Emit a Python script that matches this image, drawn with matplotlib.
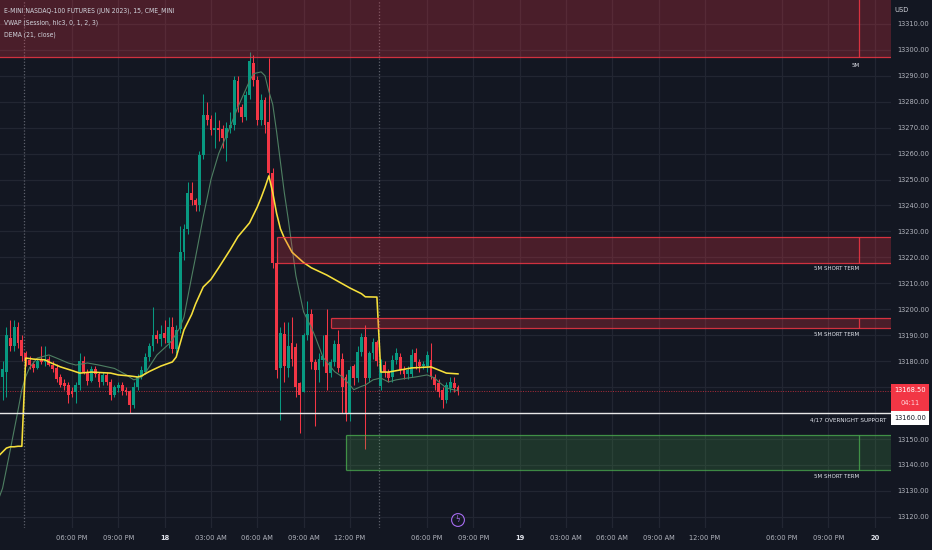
import numpy as np
import matplotlib
matplotlib.use("Agg")
import matplotlib.pyplot as plt
from matplotlib.patches import Rectangle
from matplotlib.transforms import blended_transform_factory

plt.rcParams['font.family'] = ['DejaVu Sans']
plt.rcParams['font.stretch'] = 'condensed'

# ---------------- data (15-minute bars, index 0 = first bar of the 3 PM session) ----------------
bars = np.arange(-6, 113)

opens = [13174, 13176, 13189, 13186, 13193, 13188, 13183, 13180.5, 13179, 13177.5,
         13180.5, 13179.5, 13181, 13178.5, 13177.5, 13174, 13171.5, 13171, 13168.5, 13168,
         13171, 13180, 13176, 13172.5, 13177, 13175, 13172, 13174.5, 13172, 13167,
         13169.5, 13171, 13169, 13168.5, 13163, 13170, 13174, 13176, 13181.5, 13186,
         13190, 13188.5, 13191, 13187, 13193, 13184.5, 13192.5, 13222, 13231, 13245,
         13242, 13240, 13259.5, 13275, 13273.5, 13269, 13270, 13269.5, 13266, 13270,
         13271, 13288, 13278, 13274, 13282.5, 13295, 13288.5, 13273, 13280.5, 13272,
         13252.5, 13218, 13177.5, 13190.5, 13177.5, 13187, 13185.5, 13171.5, 13168, 13190,
         13198, 13179.5, 13176.5, 13180.5, 13190, 13175.5, 13179.5, 13186.5, 13181, 13174,
         13160, 13178, 13173.5, 13183.5, 13189.5, 13173.5, 13183, 13187.5, 13170.5, 13178.5,
         13176, 13174, 13180.5, 13181.5, 13176.5, 13175, 13175, 13183, 13179.5, 13178,
         13178, 13180.5, 13174, 13171.5, 13169, 13165, 13169.5, 13171.5, 13170]

highs = [13180, 13193, 13196, 13196, 13195, 13190, 13184, 13182, 13180, 13181,
         13186, 13186, 13182, 13180, 13179, 13175, 13173, 13172, 13170, 13172,
         13183, 13182, 13177, 13178, 13178, 13176, 13176, 13176, 13173, 13171,
         13172, 13172, 13170, 13169, 13172, 13175, 13178, 13183, 13187, 13201,
         13192, 13194, 13196, 13197, 13197, 13194, 13232, 13233, 13249, 13249,
         13243, 13261, 13283, 13280, 13275, 13276, 13273, 13271, 13272, 13276,
         13290, 13290, 13279, 13284, 13299, 13298, 13290, 13283, 13282, 13297,
         13254.5, 13222, 13193, 13195, 13195, 13197, 13187, 13172, 13191, 13203,
         13200, 13181, 13183, 13190, 13200, 13181, 13188, 13192, 13183, 13175,
         13178, 13179, 13186, 13191, 13194, 13184, 13189, 13188, 13181, 13180,
         13177, 13182.5, 13185, 13183, 13178, 13178, 13184.5, 13185, 13181, 13180,
         13184, 13187, 13175, 13173, 13170, 13172, 13174, 13174, 13171]

lows = [13165, 13166, 13184, 13184, 13185, 13180, 13178, 13177, 13176, 13177,
        13179, 13178, 13178, 13176, 13172, 13170, 13169, 13164, 13166, 13164,
        13169, 13175, 13171, 13172, 13174, 13170, 13171, 13171, 13165, 13166,
        13168, 13167, 13167, 13160, 13162, 13169, 13173, 13175, 13180, 13184,
        13187, 13186, 13187, 13185, 13183, 13183, 13191, 13219, 13229, 13240,
        13238, 13238, 13258, 13271, 13267, 13262, 13265, 13262, 13257, 13268,
        13269, 13276, 13272, 13273, 13281, 13286, 13271, 13271, 13268, 13250,
        13216, 13173.5, 13157.3, 13172, 13174, 13178, 13166, 13152.3, 13168, 13188,
        13177, 13155, 13172, 13178, 13169, 13174, 13178, 13176, 13160, 13157,
        13157, 13171, 13172, 13182, 13146, 13172, 13181, 13178, 13169, 13174,
        13172, 13172, 13179, 13175, 13173, 13173, 13174, 13177, 13176, 13177,
        13176, 13173, 13169, 13166, 13162, 13164, 13168, 13168, 13167]

closes = [13177, 13190, 13186, 13193, 13187, 13182, 13180, 13178.5, 13177.5, 13180,
          13179.5, 13181, 13178.5, 13177, 13173, 13171, 13170.5, 13167, 13167.5, 13171,
          13180, 13176, 13172.5, 13177, 13175, 13172, 13174.5, 13172, 13167, 13170,
          13171, 13168.5, 13168, 13163, 13170, 13174, 13176.5, 13181.5, 13186, 13190,
          13188.5, 13190.5, 13189, 13193, 13184.5, 13192, 13222, 13231, 13245, 13242,
          13240, 13259.5, 13275, 13273, 13269, 13270, 13269, 13266, 13270, 13271,
          13288.5, 13278, 13274, 13282.5, 13295.5, 13288.5, 13273, 13280.5, 13271, 13252.5,
          13218, 13176.5, 13191, 13178, 13186, 13181, 13170, 13167, 13190, 13198,
          13179.5, 13176.5, 13181, 13182, 13175.5, 13179.5, 13186.5, 13177.5, 13170, 13159.5,
          13176.5, 13173.5, 13183.5, 13189.5, 13173.5, 13183, 13187.5, 13180, 13179, 13176,
          13173.5, 13180.5, 13183, 13176.5, 13175, 13176.5, 13182.5, 13179.5, 13178, 13179,
          13182.5, 13174, 13171, 13168, 13165, 13171, 13172, 13169.5, 13168.5]

# VWAP (session anchored)
vwap_idx = [-7, -6, -5, -4, -3, -2, -1, 0, 2, 5, 6, 9, 12, 14, 17, 22, 24, 27, 29, 30,
            32, 35, 38, 39, 41, 43, 44, 46, 48, 50, 53, 55, 58, 60, 61, 62, 63, 64, 65, 66,
            67, 69, 72, 74, 78, 81, 84, 87, 88, 91, 92, 94, 97, 100, 105, 107, 109, 112]
vwap_val = [13143.5, 13145, 13146.5, 13147, 13147, 13147.2, 13147.2, 13181.2, 13180.8, 13180.5,
            13179.7, 13177.8, 13176.4, 13175.4, 13175.8, 13175.4, 13174.7, 13174.3, 13173.9, 13174.3,
            13176.0, 13178.1, 13179.7, 13181.6, 13192.0, 13198.0, 13202.0, 13208.6, 13211.5, 13216.0,
            13223.0, 13228.0, 13233.3, 13239.4, 13243.0, 13247.0, 13251.4, 13245.0, 13237.0, 13231.0,
            13227.5, 13222.0, 13218.0, 13216.0, 13213.2, 13210.7, 13208.2, 13206.0, 13204.8, 13204.7,
            13175.8, 13175.8, 13176.6, 13177.4, 13177.8, 13176.6, 13175.4, 13175.1]

# DEMA(21, close)
dema_idx = [-7, -6, -4, -2, -1, 0, 1, 3, 6, 8, 11, 13, 16, 19, 23, 26, 28, 30, 31, 34,
            37, 38, 40, 41, 43, 44, 46, 48, 50, 53, 55, 58, 59, 61, 62, 63, 64, 65, 67, 68,
            70, 72, 74, 75, 77, 80, 82, 84, 85, 87, 88, 90, 92, 94, 96, 99, 101, 104, 106, 107,
            109, 111, 112]
dema_val = [13127, 13131, 13145.8, 13161, 13169, 13174, 13177.5, 13181.2, 13182.4, 13181.2,
            13179.3, 13178.5, 13179.3, 13178.5, 13177.2, 13174.8, 13172.8, 13173.8, 13175.5, 13182.4,
            13186.5, 13188.2, 13193, 13197, 13212.5, 13220, 13235.6, 13250, 13260, 13270.5,
            13278, 13288, 13290.8, 13291.5, 13290, 13284, 13279, 13268.5, 13245, 13235,
            13213, 13199, 13193, 13189.5, 13181.6, 13176, 13174, 13170.8, 13169, 13170.3,
            13170.8, 13172.8, 13173.5, 13172, 13172.8, 13173.5, 13173.9, 13174.7, 13173.5, 13172,
            13169.7, 13168.9, 13168.7]

# zones: (start bar, low, high, label, kind)
zones = [(-10, 13297.2, 13330.0, "5M", "red"),
         (65, 13217.8, 13227.9, "5M SHORT TERM", "red"),
         (79, 13192.8, 13196.6, "5M SHORT TERM", "red"),
         (83, 13138.1, 13151.6, "5M SHORT TERM", "green")]
zone_label_y = [13294.0, 13215.9, 13190.2, 13135.4]
zone_end = 216
support_level = 13160.0
support_label = "4/17 OVERNIGHT SUPPORT"
session_starts = [0, 92]

x_ticks = [12, 24, 36, 48, 60, 72, 84, 104, 116, 128, 140, 152, 164, 176, 196, 208, 220]
x_labels = ["06:00 PM", "09:00 PM", "18", "03:00 AM", "06:00 AM", "09:00 AM", "12:00 PM",
            "06:00 PM", "09:00 PM", "19", "03:00 AM", "06:00 AM", "09:00 AM", "12:00 PM",
            "06:00 PM", "09:00 PM", "20"]
day_labels = {"18", "19", "20"}
y_ticks = list(range(13120, 13311, 10))
hidden_y = {13160, 13170}

# ---------------- style ----------------
BG = "#131722"
GRID = "#222632"
UP = "#089981"
DN = "#f23645"
TXT = "#b2b5be"

fig = plt.figure(figsize=(9.32, 5.5), dpi=100, facecolor=BG)
ax = fig.add_axes([0, 22 / 550, 891 / 932, 528 / 550])
ax.set_facecolor(BG)
ax.set_xlim(-6.66, 224.2)
ax.set_ylim(13115.7, 13319.2)
for s in ax.spines.values():
    s.set_visible(False)

# grid
ax.set_xticks(x_ticks, x_labels)
ax.set_yticks(y_ticks, ["" if v in hidden_y else f"{v:.2f}" for v in y_ticks])
ax.grid(True, color=GRID, lw=0.9, zorder=0)
ax.set_axisbelow(True)
ax.yaxis.tick_right()
ax.tick_params(axis='y', length=0, pad=4.3, labelcolor=TXT, labelsize=5.3)
ax.tick_params(axis='x', length=0, pad=5.2, labelcolor=TXT, labelsize=5.3)
for lab in ax.get_xticklabels():
    if lab.get_text() in day_labels:
        lab.set_fontweight("bold")
        lab.set_color("#e0e3eb")

# session breaks
for s in session_starts:
    ax.axvline(s - 0.5, color="#5d606b", lw=0.9, ls=(0, (1, 1.5)), zorder=1)

# candles
o = np.array(opens); h = np.array(highs); l = np.array(lows); c = np.array(closes)
cols = np.where(c >= o, UP, DN)
ax.vlines(bars, l, h, colors=cols, lw=0.75, zorder=3)
ax.bar(bars, np.maximum(np.abs(c - o), 0.35), width=0.74, bottom=np.minimum(o, c),
       color=cols, linewidth=0, zorder=4)

# indicator lines
ax.plot(dema_idx, dema_val, color="#4e7f62", lw=0.8, zorder=5)
ax.plot(vwap_idx, vwap_val, color="#f7e03b", lw=1.15, zorder=6)

# zones
for (x0, lo, hi, lab, kind), ly in zip(zones, zone_label_y):
    if kind == "red":
        fc, ec = (0.949, 0.212, 0.271, 0.25), (0.949, 0.212, 0.271, 0.85)
    else:
        fc, ec = (0.298, 0.686, 0.314, 0.20), (0.298, 0.686, 0.314, 0.75)
    ax.add_patch(Rectangle((x0, lo), 240 - x0, hi - lo, facecolor=fc, edgecolor="none", zorder=7))
    ax.hlines([lo, hi], x0, 240, colors=[ec], lw=0.9, zorder=7)
    ax.vlines([x0, zone_end], lo, hi, colors=[ec], lw=0.9, zorder=7)
    ax.text(zone_end, ly, lab, color="#e0e3eb", fontsize=4.4, ha="right", va="center", zorder=9)

# support line
ax.axhline(support_level, color="#e8e8e8", lw=1.0, zorder=8)
ax.text(223.1, support_level - 2.7, support_label, color="#e0e3eb", fontsize=4.6,
        ha="right", va="center", zorder=9)

# last price line
last = closes[-1]
ax.axhline(last, color=DN, lw=0.7, ls=(0, (1, 1.5)), alpha=0.7, zorder=2)

# price scale labels
tr = blended_transform_factory(ax.transAxes, ax.transData)
ax.add_patch(Rectangle((1.0, last - 7.7), 0.0426, 10.4, transform=tr, facecolor=DN,
                       edgecolor="none", clip_on=False, zorder=10))
ax.text(1.0213, last + 0.3, f"{last:.2f}", transform=tr, color="white", fontsize=5.3,
        ha="center", va="center", clip_on=False, zorder=11)
ax.text(1.0213, last - 4.6, "04:11", transform=tr, color="#ffd6da", fontsize=5.3,
        ha="center", va="center", clip_on=False, zorder=11)
ax.add_patch(Rectangle((1.0, support_level - 4.6), 0.0426, 5.4, transform=tr, facecolor="white",
                       edgecolor="none", clip_on=False, zorder=10))
ax.text(1.0213, support_level - 1.9, f"{support_level:.2f}", transform=tr, color="#131722",
        fontsize=5.3, ha="center", va="center", clip_on=False, zorder=11)

fig.text(894 / 932, 1 - 10 / 550, "USD", color="#d1d4dc", fontsize=5.3, ha="left", va="center")

# legend
leg = ["E-MINI NASDAQ-100 FUTURES (JUN 2023), 15, CME_MINI",
       "VWAP (Session, hlc3, 0, 1, 2, 3)",
       "DEMA (21, close)"]
for k, t in enumerate(leg):
    fig.text(4 / 932, 1 - (11 + 12 * k) / 550, t, color="#d1d4dc", fontsize=4.9,
             ha="left", va="center")

# event icon
fig.text(458 / 932, 1 - 520 / 550, "\u03df", color="#a66cf0", fontsize=5.5, ha="center", va="center",
         bbox=dict(boxstyle="circle,pad=0.25", fc="none", ec="#a66cf0", lw=0.8))

fig.savefig("out.png", dpi=100, facecolor=BG)
